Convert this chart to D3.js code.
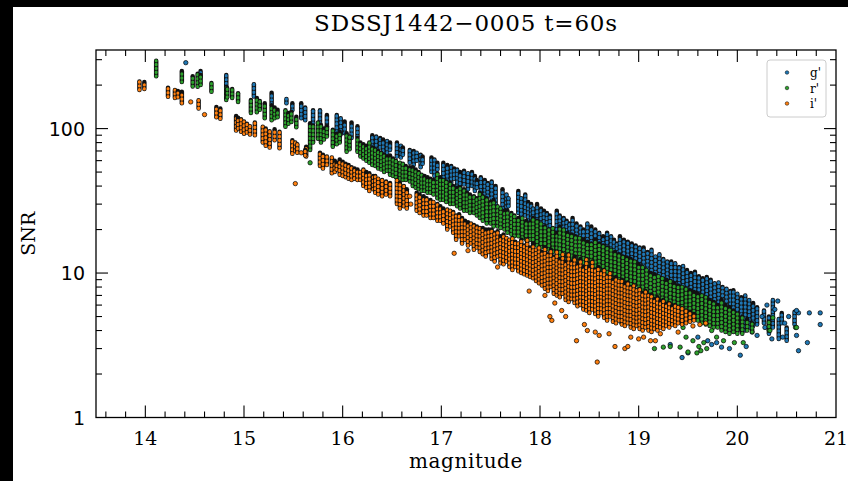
<!DOCTYPE html>
<html>
<head>
<meta charset="utf-8">
<script src="https://cdn.jsdelivr.net/npm/d3@7"></script>
<style>
  body { margin: 0; background: #000; }
</style>
</head>
<body>
<script>
// columns of repeated measurements: [magnitude, snr low, snr high]
// (low == high means a single measurement)
var gBand = [
    [14.41,286,286],[14.56,228,250],[14.82,192,235],[15.10,167,203],[15.28,148,177],
    [15.43,150,160],[15.49,134,150],[15.58,118,150],[15.62,114,140],[15.70,109,134],
    [15.77,103,134],[15.84,98,124],[15.94,95,124],[15.98,91,118],[16.02,93,112],
    [16.09,86,110],[16.15,88,104],
    [16.30,76,90],[16.34,72,88],[16.38,74,86],[16.41,70,84],[16.45,68,82],[16.48,71,80],
    [16.55,64,80],[16.59,63,76],[16.61,66,74],
    [16.68,58,71],[16.72,56,70],[16.75,60,68],[16.79,54,66],[16.81,57,64],
    [16.90,50,63],[16.93,47,61],[16.96,52,58],
    [17.02,46,58],[17.06,44,56],[17.10,42,55],[17.13,45,53],[17.16,40,52],[17.19,39,50],
    [17.23,41,51],[17.27,38,49],[17.31,40,50],[17.34,37,47],[17.36,39,44],
    [17.40,35,46],[17.44,33,44],[17.47,34,42],[17.51,31,43],[17.55,30,40],
    [17.62,28,38],[17.66,27,35],[17.68,29,33],
    [17.78,26,37],[17.81,24,33],[17.85,25,35],[17.88,23,31],[17.91,24,30],[17.93,23,28],
    [17.97,22,30],[18.01,21,28],[18.04,20,27],[18.07,21,26],[18.10,20,25],
    [18.17,20,27],[18.20,19,25],[18.24,19.5,24],[18.27,18.5,23],[18.30,19,22],
    [18.33,18,24],[18.37,17.5,22],[18.41,18,21],[18.44,17,20],
    [18.48,16,22],[18.52,15.5,21],[18.56,15,20],[18.60,15.5,19],[18.64,15,18],
    [18.68,13.5,19],[18.72,13,18],[18.75,13.5,17],[18.78,13,16],
    [18.81,12.5,18],[18.85,12,17],[18.89,12.5,16.5],[18.93,12,16],[18.97,11.8,15.5],[19.01,11.5,15],
    [19.05,10.5,15],[19.09,10,14],[19.13,9.8,14.5],[19.17,9.5,13],[19.21,9.2,13.5],
    [19.25,9,12.5],[19.29,8.7,12],[19.33,8.5,12],
    [19.37,7.5,11.7],[19.41,7,11],[19.45,6.8,11.2],[19.49,6.5,10.5],[19.53,6.2,10],
    [19.57,6,10.2],[19.61,5.6,9.5],[19.65,5.4,9.2],[19.69,5.2,9.4],
    [19.73,5,9],[19.77,4.8,8.5],[19.81,4.6,8.6],[19.85,4.5,8],[19.89,4.4,7.8],
    [19.93,4.2,7.5],[19.96,4.2,7.6],
    [20.00,4.1,7.2],[20.04,4,6.8],[20.08,4,7],[20.12,4.2,6.5],[20.16,4.3,6.2],[20.20,4.4,5.8],
    [20.27,4.5,5.5],[20.32,3.8,5],[20.36,4.2,6.5],[20.42,3.5,4.8],[20.45,4.5,5.3],
    [20.50,3.4,4.2],[20.58,4.4,5.4],[20.62,5.3,5.3],[20.73,5.3,5.3],[20.84,5.3,5.3],
    [20.84,4.4,4.4],[20.62,2.9,2.9],[20.71,3.3,3.3],[20.03,2.7,2.7],[19.44,2.6,2.6],
    [19.32,3.2,3.2],[19.79,3.3,3.3],[19.92,3.0,3.0],[19.70,3.4,3.4],
    [19.50,2.8,2.8],[19.74,3.2,3.2],[19.84,3.07,3.07],[20.09,3.1,3.1],[20.20,3.7,3.7],
    [20.25,5.0,5.0],[20.28,4.2,4.2],[20.35,3.5,3.5],[20.46,3.6,3.6],[20.48,4.5,4.5],
    [20.60,5.5,5.5],[20.60,3.7,3.7],[20.41,6.4,6.4],[20.30,6.0,6.0],[20.38,5.6,5.6],
    [20.52,5.0,5.0],[20.15,3.9,3.9],[19.60,3.6,3.6]
];

var rBand = [
    [14.11,230,295],[14.37,210,250],[14.48,196,230],[14.53,195,240],[14.56,200,235],
    [14.67,180,207],[14.82,158,195],[14.83,165,190],[14.88,163,188],[14.94,153,176],
    [15.07,128,158],[15.13,130,163],[15.16,135,155],[15.21,118,150],
    [15.28,114,145],[15.31,118,140],[15.34,120,135],[15.42,103,134],[15.45,108,128],
    [15.48,111,131],[15.53,102,121],
    [15.67,71,109],[15.70,80,105],[15.75,85,110],[15.78,80,106],[15.81,84,100],[15.84,88,104],
    [15.90,75,98],[15.94,78,92],[15.97,80,95],[16.04,69,93],[16.07,72,88],[16.15,69,86],
    [16.18,64,80],[16.21,62,78],[16.24,60,76],[16.27,58,80],[16.30,56,74],[16.33,55,72],
    [16.36,53,70],[16.39,52,68],[16.42,50,66],[16.45,51,64],
    [16.48,48,65],[16.51,47,62],[16.54,46,60],[16.58,45,58],[16.61,44,57],[16.64,44,55],[16.68,43,54],
    [16.71,40,54],[16.74,39,52],[16.77,38,50],[16.80,37,48],[16.83,37,47],[16.86,36,46],
    [16.89,36,45],[16.92,35,44],
    [16.96,33,49],[16.99,32,46],[17.02,32,44],[17.05,31,43],[17.09,30,42],[17.12,30,40],[17.16,29,39],
    [17.19,28,39],[17.23,27,38],[17.26,27,36],[17.29,26,35],[17.33,26,34],[17.36,25,33],[17.39,24,36],
    [17.42,23,34],[17.46,22,33],[17.50,22,31],[17.53,21,32],[17.57,21,29],[17.60,20.5,28],[17.64,20,27],
    [17.67,19,27],[17.71,18.5,26],[17.74,18,25],[17.78,18,24],[17.82,17.5,24],[17.86,17,23],[17.90,17,22.5],
    [17.93,16,24],[17.97,15.5,23],[18.01,15,22],[18.05,15,21],[18.09,14.5,20],[18.13,14,20.5],[18.17,14,19],
    [18.20,13,21],[18.24,12.8,20],[18.28,12.5,19],[18.32,12.3,18.5],[18.36,12,18],[18.40,12,17.5],
    [18.44,11.8,17],[18.48,11.5,16.5],[18.52,11.5,16],
    [18.56,10.5,17],[18.60,10,16],[18.64,9.8,15.5],[18.68,9.5,15],[18.72,9.3,14.5],[18.76,9.2,14],
    [18.80,9,13.5],[18.84,8.8,13],[18.88,8.5,12.8],[18.92,8.3,12.5],[18.96,8.2,12],[19.00,8,11.5],
    [19.04,7.5,11],[19.08,7.2,10.5],[19.12,7,10],[19.16,6.8,9.8],[19.20,6.5,9.5],[19.24,6.3,9.2],
    [19.28,6.2,9],[19.32,6,8.8],[19.36,5.9,8.5],[19.40,5.8,8.2],
    [19.44,5.5,8],[19.48,5.3,7.8],[19.52,5,7.6],[19.56,4.8,7.4],[19.60,4.7,7.2],[19.64,4.5,7],
    [19.68,4.4,6.8],[19.72,4.3,6.5],[19.76,4.2,6.3],[19.80,4.2,6],
    [19.84,4,6.5],[19.88,3.9,6],[19.92,3.8,5.8],[19.96,3.9,5.5],[20.00,3.8,5.2],[20.05,3.8,5],
    [20.10,4,4.8],[20.15,3.9,4.5],
    [19.32,3.1,3.1],[19.61,3.1,3.1],[19.59,2.8,2.8],[19.69,3.0,3.0],[19.55,3.4,3.4],[19.48,3.6,3.6],
    [20.32,4.0,4.6],[20.36,4.9,4.9],[20.59,4.2,4.2],[20.06,3.3,3.3],[19.79,3.6,3.6],[15.67,58,58],
    [18.83,4.5,4.5],[19.16,3.0,3.0],[19.25,3.07,3.07],[19.42,3.07,3.07],[19.50,2.84,2.84],
    [19.63,2.9,2.9],[19.66,3.3,3.3],[19.74,4.0,4.0],[19.86,3.4,3.4],[19.97,3.3,3.3],
    [20.33,4.0,4.0],[20.60,4.2,4.2],[19.30,4.5,4.5],[19.45,4.2,4.2]
];

var iBand = [
    [13.94,185,212],[13.99,188,210],[14.23,166,192],[14.30,163,185],[14.33,165,182],
    [14.37,150,180],[14.46,153,153],[14.54,138,157],[14.60,125,125],[14.72,120,141],[14.76,117,138],
    [14.92,97,122],[14.94,100,119],[14.97,95,116],[15.00,92,112],[15.03,94,108],[15.06,91,104],
    [15.11,90,110],[15.19,80,103],[15.22,76,100],[15.26,74,96],[15.31,83,99],[15.36,73,95],
    [15.49,67,83],[15.52,70,80],[15.54,68,78],[15.52,41.6,41.6],[15.58,68,68],[15.63,64,75],[15.62,65,71],
    [15.77,55,68],[15.80,53,66],[15.84,56,64],[15.89,49,63],[15.92,50,60],[15.94,52,58],
    [15.97,48,61],[16.00,47,59],[16.03,46,57],[16.06,45,56],[16.09,44,54],[16.12,45,53],
    [16.15,44,52],[16.18,44,50],
    [16.21,40,52],[16.24,39,50],[16.27,37,49],[16.31,38,47],
    [16.33,36,47],[16.36,35,45],[16.40,34,44],[16.44,35,43],[16.48,34,42],
    [16.55,30,44],[16.58,28,42],[16.62,29,40],[16.65,28,38],[16.68,34,34],[16.69,30,30],
    [16.75,27,36],[16.78,26,35],[16.82,25,34],[16.85,25,33],[16.89,24,32],[16.92,24,31],
    [16.96,23,30],[16.99,23,29],[17.02,22,28],
    [17.06,20,27.5],[17.09,21,27],[17.12,19,26.5],[17.15,17,25],[17.18,18,25.5],[17.21,16,24],
    [17.24,17,23],[17.27,15.5,22.5],[17.30,16,22],[17.33,14.5,21.5],[17.36,15,21],[17.39,14,20.5],
    [17.42,13.5,20.5],[17.45,13,20],[17.48,14,20],[17.51,12.5,20],[17.54,12,19],[17.57,13,19.5],
    [17.60,11.7,18],[17.63,11.5,18.5],[17.66,12,17.5],[17.69,11,17],[17.72,10.5,17.5],[17.75,11,16.5],
    [17.78,10.3,16],[17.81,10,17],[17.84,9.8,15.5],[17.87,9.6,17],[17.90,9.4,15],[17.93,9.2,16],
    [17.96,8.8,14.5],[17.99,8.5,15],[18.02,8.2,14],[18.05,7.8,15],[18.08,7.5,13.5],[18.11,8,14.5],
    [18.14,7.2,13],[18.17,7,14],[18.20,6.8,12.5],[18.23,7.2,13.5],[18.26,6.5,12],[18.29,6.3,13.5],
    [18.32,6.6,12],[18.35,6.2,13],[18.38,5.9,11.5],[18.41,6,12.5],[18.44,5.6,11],[18.47,5.5,12.5],
    [18.50,5.3,11],[18.53,5.6,12],[18.56,5.2,10.5],[18.59,5,11],[18.62,5.3,10],[18.65,4.9,10.5],
    [18.68,4.7,9.5],[18.71,5,10],[18.74,4.6,9],[18.77,4.5,9.4],[18.80,4.7,8.8],[18.83,4.4,9],
    [18.86,4.3,8.5],[18.89,4.5,8.6],[18.92,4.2,8],[18.95,4.1,8.2],[18.98,4.3,7.6],[19.01,4.1,7.8],
    [19.04,4,7.3],[19.07,4.2,7.5],[19.10,4,7],[19.13,3.9,7.1],[19.16,4.1,6.6],[19.19,4,6.8],
    [19.22,4.2,6.4],[19.25,4.1,6.5],[19.28,4.3,6.1],[19.31,4.2,6.2],[19.34,4.4,5.9],[19.37,4.3,6],
    [19.40,4.5,5.8],[19.44,4.4,5.7],[19.48,4.5,5.5],[19.52,4.6,5.4],[19.56,4.7,5.2],
    [17.13,13.7,13.7],[17.27,14.3,14.3],[17.57,11.0,11.0],[17.89,7.5,7.5],[18.05,7.0,7.0],
    [18.10,5.0,5.0],[18.12,4.7,4.7],[18.15,6.2,6.2],[18.22,5.5,5.5],[18.26,5.0,5.0],
    [18.37,3.4,3.4],[18.45,4.4,4.4],[18.48,4.0,4.0],[18.56,3.9,3.9],[18.58,2.42,2.42],
    [18.60,3.7,3.7],[18.70,3.8,3.8],[18.76,3.1,3.1],[18.86,3.0,3.0],[18.89,3.1,3.1],
    [18.92,3.6,3.6],[19.00,3.5,3.5],[19.05,3.6,3.6],[19.12,3.4,3.4],[19.17,3.4,3.4],
    [19.22,3.8,3.8],[19.40,3.9,3.9],[19.55,4.3,4.3],[19.62,4.4,4.4],[19.68,4.5,4.5]
];

var bandNames = ["g'", "r'", "i'"];
var bandColors = ["#1f77b4", "#2ca02c", "#ff7f0e"];
var xTicks = [14, 15, 16, 17, 18, 19, 20, 21];
var yTicks = [1, 10, 100];

var width = 848, height = 481;
var plotL = 96, plotR = 836, plotT = 50, plotB = 417.5;

var svg = d3.select("body")
    .append("svg")
    .attr("width", width)
    .attr("height", height);

svg.append("rect").attr("width", width).attr("height", height).attr("fill", "#000");
svg.append("rect").attr("x", 13).attr("y", 7)
    .attr("width", width - 13).attr("height", height - 7).attr("fill", "#fff");

var x = d3.scaleLinear().domain([13.5, 21]).range([plotL, plotR]);
var y = d3.scaleLog().domain([1, 350]).range([plotB, plotT]);

// data: each column drawn as a stack of edged markers
var bands = [gBand, rBand, iBand];
bands.forEach(function(band, b) {
    var g = svg.append("g");
    band.forEach(function(d) {
        if (d[1] == d[2]) {
            g.append("circle")
                .attr("cx", x(d[0])).attr("cy", y(d[1])).attr("r", 2.2)
                .attr("fill", bandColors[b])
                .attr("stroke", "#000").attr("stroke-width", 0.7);
        } else {
            g.append("line")
                .attr("x1", x(d[0])).attr("x2", x(d[0]))
                .attr("y1", y(d[1])).attr("y2", y(d[2]))
                .attr("stroke", "#111").attr("stroke-width", 4.5)
                .attr("stroke-linecap", "round");
            g.append("line")
                .attr("x1", x(d[0])).attr("x2", x(d[0]))
                .attr("y1", y(d[1])).attr("y2", y(d[2]))
                .attr("stroke", bandColors[b]).attr("stroke-width", 3.0)
                .attr("stroke-linecap", "round")
                .attr("stroke-dasharray", "0.4,3.5");
        }
    });
});

// ticks on all four sides
var xMinor = d3.range(136, 211, 2).map(function(v){ return v / 10; })
    .filter(function(v){ return v % 1 != 0; });
var yMinor = [];
[1, 10, 100].forEach(function(dec) {
    for (var k = 2; k <= 9; k++) {
        if (dec * k < 350) yMinor.push(dec * k);
    }
});

var ticks = svg.append("g").attr("stroke", "#000").attr("stroke-width", 1.1);
function tickLines(vals, len) {
    vals.forEach(function(v) {
        ticks.append("line").attr("x1", x(v)).attr("x2", x(v)).attr("y1", plotB).attr("y2", plotB - len);
        ticks.append("line").attr("x1", x(v)).attr("x2", x(v)).attr("y1", plotT).attr("y2", plotT + len);
    });
}
tickLines(xTicks.filter(function(v){ return v < 21; }), 12);
tickLines(xMinor, 6);
function yTickLines(vals, len) {
    vals.forEach(function(v) {
        ticks.append("line").attr("y1", y(v)).attr("y2", y(v)).attr("x1", plotL).attr("x2", plotL + len);
        ticks.append("line").attr("y1", y(v)).attr("y2", y(v)).attr("x1", plotR).attr("x2", plotR - len);
    });
}
yTickLines(yTicks.filter(function(v){ return v > 1; }), 12);
yTickLines(yMinor, 6);

svg.append("rect")
    .attr("x", plotL).attr("y", plotT)
    .attr("width", plotR - plotL).attr("height", plotB - plotT)
    .attr("fill", "none").attr("stroke", "#000").attr("stroke-width", 1.3);

// tick labels
svg.selectAll(".xlab")
    .data(xTicks)
    .enter().append("text")
    .attr("class", "xlab")
    .attr("x", function(d){ return x(d); })
    .attr("y", 445)
    .attr("text-anchor", "middle")
    .style("font-family", "DejaVu Serif")
    .style("font-size", "19px")
    .text(function(d){ return d; });

svg.selectAll(".ylab")
    .data(yTicks)
    .enter().append("text")
    .attr("class", "ylab")
    .attr("x", 85)
    .attr("y", function(d){ return y(d) + 7; })
    .attr("text-anchor", "end")
    .style("font-family", "DejaVu Sans")
    .style("font-size", "19px")
    .text(function(d){ return d; });

svg.append("text")
    .attr("x", (plotL + plotR) / 2).attr("y", 468)
    .attr("text-anchor", "middle")
    .style("font-family", "DejaVu Serif").style("font-size", "20px")
    .style("letter-spacing", "0.6px")
    .text("magnitude");

svg.append("text")
    .attr("transform", "translate(35," + ((plotT + plotB) / 2) + ") rotate(-90)")
    .attr("text-anchor", "middle")
    .style("font-family", "DejaVu Serif").style("font-size", "19px")
    .text("SNR");

svg.append("text")
    .attr("x", (plotL + plotR) / 2).attr("y", 31)
    .attr("text-anchor", "middle")
    .style("font-family", "DejaVu Serif").style("font-size", "23px")
    .style("letter-spacing", "0.8px")
    .text("SDSSJ1442\u22120005 t=60s");

// legend
var legend = svg.append("g");
legend.append("rect")
    .attr("x", 767).attr("y", 60).attr("width", 59).attr("height", 57)
    .attr("rx", 3).attr("fill", "#fff").attr("fill-opacity", 0.8)
    .attr("stroke", "#ccc").attr("stroke-width", 1);
legend.selectAll(".item")
    .data(bandNames)
    .enter().append("circle")
    .attr("cx", 787)
    .attr("cy", function(d, i){ return 72.5 + i * 15.5; })
    .attr("r", 1.8)
    .attr("fill", function(d, i){ return bandColors[i]; })
    .attr("stroke", "#000").attr("stroke-width", 0.5);
legend.selectAll(".ltext")
    .data(bandNames)
    .enter().append("text")
    .attr("x", 810)
    .attr("y", function(d, i){ return 77 + i * 15.5; })
    .style("font-family", "DejaVu Serif").style("font-size", "12px")
    .text(function(d){ return d; });
</script>
</body>
</html>
